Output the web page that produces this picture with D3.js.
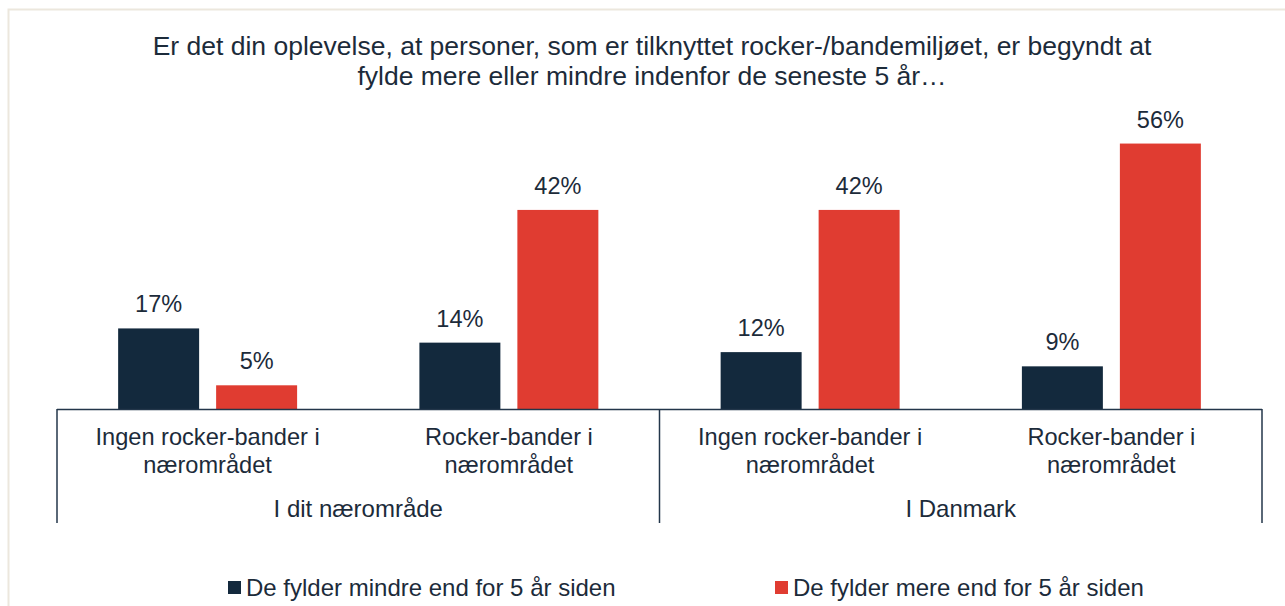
<!DOCTYPE html>
<html>
<head>
<meta charset="utf-8">
<script src="https://cdn.jsdelivr.net/npm/d3@7"></script>
<style>
  html, body { margin: 0; padding: 0; background: #fff; }
  svg { display: block; font-family: "Liberation Sans", Arial, sans-serif; }
</style>
</head>
<body>
<svg id="chart" width="1285" height="606"></svg>
<script>
// Survey answers, share of respondents
const titleLines = [
  "Er det din oplevelse, at personer, som er tilknyttet rocker-/bandemiljøet, er begyndt at",
  "fylde mere eller mindre indenfor de seneste 5 år…"
];
const groups = ["I dit nærområde", "I Danmark"];
const categories = ["Ingen rocker-bander i|nærområdet", "Rocker-bander i|nærområdet"];
const seriesNames = ["De fylder mindre end for 5 år siden", "De fylder mere end for 5 år siden"];
const seriesColors = ["#13293d", "#e03c31"];
const lessValues = [0.17, 0.14, 0.12, 0.09];
const moreValues = [0.05, 0.42, 0.42, 0.56];

const ink = "#1c2b3a";
const svg = d3.select("#chart");

// faint frame
svg.append("rect")
  .attr("x", 8.5).attr("y", 9.5).attr("width", 1400).attr("height", 700)
  .attr("fill", "none").attr("stroke", "#ece7dd").attr("stroke-width", 2);

// title
svg.append("g").selectAll("text").data(titleLines).join("text")
  .attr("x", 652).attr("y", (d, i) => 55 + i * 30)
  .attr("text-anchor", "middle")
  .attr("font-size", 26.5).attr("fill", ink)
  .text(d => d);

// flattened category list: group x category
const slots = [];
groups.forEach((g, gi) => categories.forEach((c, ci) => slots.push({
  key: gi + "-" + ci, group: g, cat: c,
  values: [lessValues[gi * 2 + ci], moreValues[gi * 2 + ci]]
})));

const x0 = d3.scaleBand().domain(slots.map(d => d.key)).range([57, 1262]);
const x1 = d3.scaleBand().domain(seriesNames).range([0, x0.bandwidth()])
  .paddingInner(0.1735).paddingOuter(0.624);
const y = d3.scaleLinear().domain([0, 0.6]).range([409, 409 - 284.4]);

const fmt = d3.format(".0%");

const slotG = svg.append("g").selectAll("g").data(slots).join("g")
  .attr("transform", d => `translate(${x0(d.key)},0)`);

slotG.selectAll("rect").data(d => d.values.map((v, i) => ({ v, s: seriesNames[i], i })))
  .join("rect")
  .attr("x", d => x1(d.s)).attr("width", x1.bandwidth())
  .attr("y", d => y(d.v)).attr("height", d => y(0) - y(d.v))
  .attr("fill", d => seriesColors[d.i]);

slotG.selectAll("text.val").data(d => d.values.map((v, i) => ({ v, s: seriesNames[i] })))
  .join("text").attr("class", "val")
  .attr("x", d => x1(d.s) + x1.bandwidth() / 2)
  .attr("y", d => y(d.v) - 16)
  .attr("text-anchor", "middle").attr("font-size", 23.5).attr("fill", ink)
  .text(d => fmt(d.v));

// category labels (two lines)
slotG.append("text")
  .attr("text-anchor", "middle").attr("font-size", 23.6).attr("fill", ink)
  .selectAll("tspan").data(d => d.cat.split("|")).join("tspan")
  .attr("x", x0.bandwidth() / 2)
  .attr("y", (d, i) => 445 + i * 28)
  .text(d => d);

// axis lines and group separators
const axisColor = "#23364a";
const [xa, xb] = x0.range();
svg.append("line").attr("x1", xa).attr("x2", xb).attr("y1", 409.5).attr("y2", 409.5)
  .attr("stroke", axisColor).attr("stroke-width", 1.5);
const sepX = [xa, x0(slots[2].key), xb];
svg.append("g").selectAll("line").data(sepX).join("line")
  .attr("x1", d => d).attr("x2", d => d).attr("y1", 409).attr("y2", 523)
  .attr("stroke", axisColor).attr("stroke-width", 1.5);

// group labels
svg.append("g").selectAll("text").data(groups).join("text")
  .attr("x", (d, i) => (sepX[i] + sepX[i + 1]) / 2).attr("y", 517)
  .attr("text-anchor", "middle").attr("font-size", 24).attr("fill", ink)
  .text(d => d);

// legend
const legendX = [228, 775];
const lg = svg.append("g").selectAll("g").data(seriesNames).join("g")
  .attr("transform", (d, i) => `translate(${legendX[i]},0)`);
lg.append("rect").attr("x", 0).attr("y", 581).attr("width", 13).attr("height", 13)
  .attr("fill", (d, i) => seriesColors[i]);
lg.append("text").attr("x", 18).attr("y", 596)
  .attr("font-size", 24).attr("fill", ink).text(d => d);
</script>
</body>
</html>
